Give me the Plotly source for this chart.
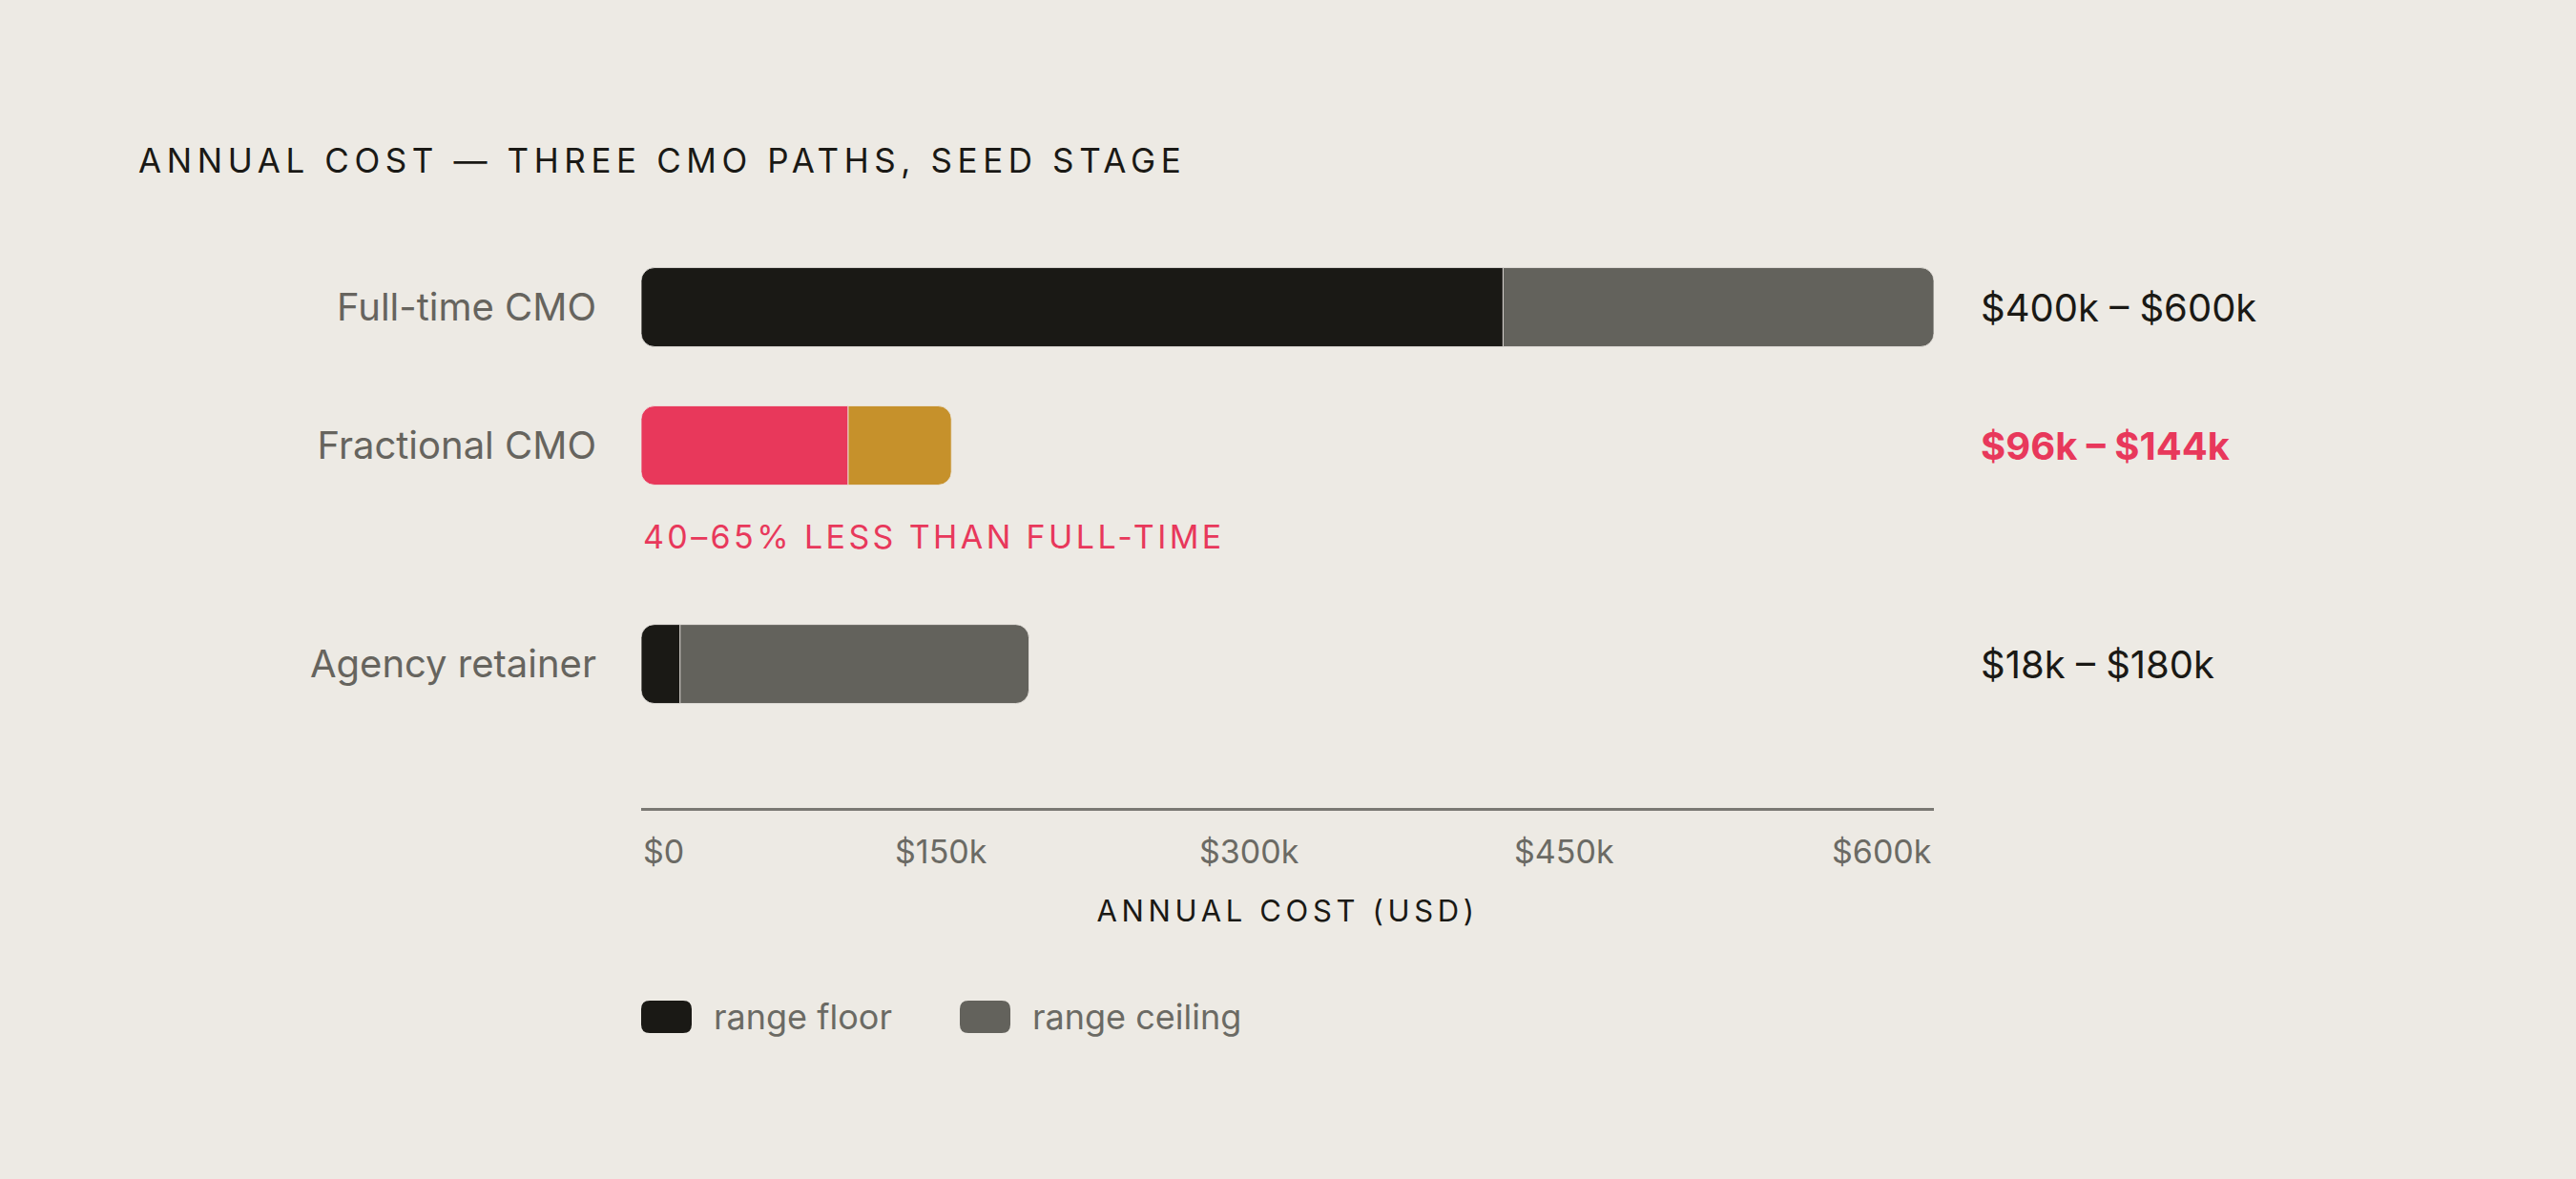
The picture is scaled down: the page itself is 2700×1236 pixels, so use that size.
import json
import plotly.graph_objects as go

# ---------------- data ----------------
categories = ["Full-time CMO", "Fractional CMO", "Agency retainer"]
range_floor = [400, 96, 18]        # $k per year
range_ceiling = [600, 144, 180]    # $k per year
tick_values = [0, 150, 300, 450, 600]
tick_labels = ["$0", "$150k", "$300k", "$450k", "$600k"]
legend_labels = ["range floor", "range ceiling"]
title_text = "ANNUAL COST — THREE CMO PATHS, SEED STAGE"
axis_title_text = "ANNUAL COST (USD)"
callout_text = "40–65% LESS THAN FULL-TIME"

# ---------------- layout / style ----------------
BG = "#edeae4"
INK = "#1a1915"
GREY = "#63625c"
MUTED = "#66645e"
PINK = "#e8385b"
GOLD = "#c6912b"
FONT = "Inter"

row_pos = [0, 1, 2.58]                      # vertical row positions (extra gap for callout)
floor_colors = [INK, PINK, INK]
ceiling_colors = [GREY, GOLD, GREY]
value_colors = [INK, PINK, INK]
value_weights = [400, 700, 400]
tick_anchor = ["left", "center", "center", "center", "right"]
tick_shift = [0, -24, -40, -49, 0]          # mimic space-between label layout

W, H = 2700, 1236
M_L, M_R, M_T, M_B = 672, 673, 250, 389
X_MAX = 600
Y_RANGE = [3.6207, -0.4966]
BAR_W = 0.572
RADIUS = 14

fig = go.Figure()

# anchor trace for the main x/y subplot (draws nothing)
fig.add_trace(go.Scatter(x=[0, X_MAX], y=[row_pos[0], row_pos[0]], mode="lines",
                         line=dict(width=0), hoverinfo="skip", showlegend=False))

extra_axes = {}
# Each row gets its own hidden x-axis (same scale, origin shifted to the floor value),
# so both segments grow away from the floor/ceiling junction: square corners at the
# junction, rounded corners at the $0 end and at the ceiling end.
for i, (cat, y, f, c, fc, cc) in enumerate(zip(categories, row_pos, range_floor,
                                                range_ceiling, floor_colors, ceiling_colors)):
    ax = f"x{i + 2}"
    extra_axes[f"xaxis{i + 2}"] = dict(overlaying="x", range=[-f, X_MAX - f],
                                       visible=False, fixedrange=True)
    fig.add_trace(go.Bar(
        y=[y], x=[c - f], xaxis=ax, orientation="h", width=BAR_W,
        marker=dict(color=cc, cornerradius=RADIUS, line=dict(color=BG, width=0.8)),
        name=f"{cat} – {legend_labels[1]}", showlegend=False,
        hovertemplate=f"{cat}: up to ${c}k<extra></extra>",
    ))
    fig.add_trace(go.Bar(
        y=[y], x=[-f], xaxis=ax, orientation="h", width=BAR_W,
        marker=dict(color=fc, cornerradius=RADIUS, line=dict(color=BG, width=0.8)),
        name=f"{cat} – {legend_labels[0]}", showlegend=False,
        hovertemplate=f"{cat}: from ${f}k<extra></extra>",
    ))

annotations = []

# x tick labels
for v, lab, anc, sh in zip(tick_values, tick_labels, tick_anchor, tick_shift):
    annotations.append(dict(
        x=v, xref="x", y=0, yref="paper", yanchor="middle", yshift=-45,
        xanchor=anc, xshift=sh, text=lab, showarrow=False,
        font=dict(family=FONT, size=34, color="#6b6a64"),
    ))

# value range labels on the right
for y, f, c, col, wt in zip(row_pos, range_floor, range_ceiling, value_colors, value_weights):
    annotations.append(dict(
        x=1, xref="paper", xanchor="left", xshift=47,
        y=y, yref="y", yanchor="middle",
        text=f"${f}k – ${c}k", showarrow=False,
        font=dict(family=FONT, size=40, color=col, weight=wt),
    ))

# callout under the fractional bar
annotations.append(dict(
    x=0, xref="x", xanchor="left", y=1.662, yref="y", yanchor="middle",
    text=callout_text, showarrow=False,
    font=dict(family=FONT, size=34, color=PINK),
))

# axis title
annotations.append(dict(
    x=0.5, xref="paper", xanchor="center", y=0, yref="paper", yanchor="middle",
    yshift=-107, text=axis_title_text, showarrow=False,
    font=dict(family=FONT, size=31, color=INK),
))

# legend (custom swatches)
LEG_Y = -0.3668
swatch_x = [0.0, 0.2465]
text_x = [0.0546, 0.3011]
sw_colors = [INK, GREY]
shapes = []
w, h, r = 53, 17, 9
path = (f"M {r},{-h} L {w-r},{-h} Q {w},{-h} {w},{-h+r} L {w},{h-r} Q {w},{h} {w-r},{h} "
        f"L {r},{h} Q 0,{h} 0,{h-r} L 0,{-h+r} Q 0,{-h} {r},{-h} Z")
for sx, tx, col, lab in zip(swatch_x, text_x, sw_colors, legend_labels):
    shapes.append(dict(
        type="path", xref="paper", yref="paper", xsizemode="pixel", ysizemode="pixel",
        xanchor=sx, yanchor=LEG_Y, path=path, fillcolor=col, line=dict(width=0),
    ))
    annotations.append(dict(
        x=tx, xref="paper", xanchor="left", y=LEG_Y, yref="paper", yanchor="middle",
        text=lab, showarrow=False, font=dict(family=FONT, size=36, color="#6b6a64"),
    ))

fig.update_layout(
    width=W, height=H,
    paper_bgcolor=BG, plot_bgcolor=BG,
    margin=dict(l=M_L, r=M_R, t=M_T, b=M_B),
    barmode="overlay",
    showlegend=False,
    hovermode="closest",
    title=dict(
        text=title_text, x=145 / W, xref="container", xanchor="left",
        y=1 - 169 / H, yref="container", yanchor="middle",
        font=dict(family=FONT, size=35, color=INK),
    ),
    xaxis=dict(
        range=[0, X_MAX], showgrid=False, zeroline=False, showticklabels=False,
        ticks="", showline=True, linecolor="#7a7873", linewidth=3, fixedrange=True,
    ),
    yaxis=dict(
        range=Y_RANGE, tickvals=row_pos, ticktext=categories, ticks="",
        showgrid=False, zeroline=False, showline=False, fixedrange=True,
        tickfont=dict(family=FONT, size=40, color=MUTED), ticklabelstandoff=46,
    ),
    annotations=annotations,
    shapes=shapes,
    font=dict(family=FONT),
    **extra_axes,
)

# tracked (letter-spaced) uppercase labels; [spacing, keep-left-edge]
spacing = {
    title_text: ["0.16em", False],
    callout_text: ["0.1em", True],
    axis_title_text: ["0.15em", False],
}
post_js = """
document.body.style.margin = '0';
document.body.style.overflow = 'hidden';
var gd = document.getElementById('{plot_id}');
var SP = %s;
function track() {
  gd.querySelectorAll('text').forEach(function (t) {
    var s = SP[t.textContent];
    if (!s || t.getAttribute('data-tracked')) { return; }
    var w0 = t.getComputedTextLength();
    t.style.letterSpacing = s[0];
    var w1 = t.getComputedTextLength();
    if (s[1] && t.getAttribute('text-anchor') === 'middle') {
      var x = parseFloat(t.getAttribute('x') || '0');
      t.setAttribute('x', x + (w1 - w0) / 2);
    }
    t.setAttribute('data-tracked', '1');
  });
}
track();
gd.on('plotly_afterplot', track);
""" % json.dumps(spacing, ensure_ascii=False)

fig.write_html("out.html", post_script=post_js, config={"displayModeBar": False})
